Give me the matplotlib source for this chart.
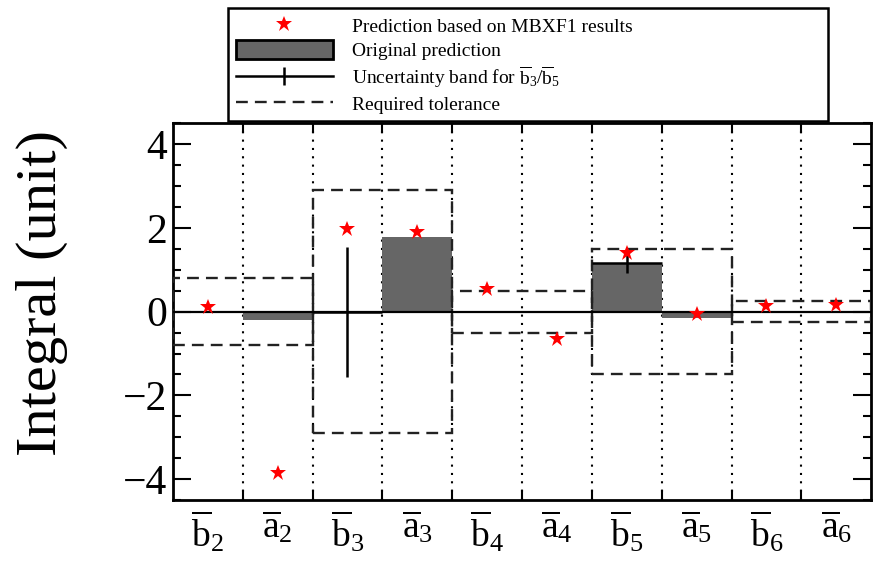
"""
Integral per harmonic: MBXF1-based prediction vs original prediction and tolerance.
"""

import matplotlib

matplotlib.use("Agg")
import matplotlib.pyplot as plt
from matplotlib.legend_handler import HandlerTuple
from matplotlib.lines import Line2D
from matplotlib.patches import Rectangle
from matplotlib.ticker import MultipleLocator, FixedLocator

plt.rcParams["font.family"] = ["Liberation Serif", "DejaVu Serif"]
plt.rcParams["mathtext.fontset"] = "custom"
plt.rcParams["mathtext.rm"] = "Liberation Serif"
plt.rcParams["mathtext.it"] = "Liberation Serif:italic"

# harmonics, in plotting order
harmonics = ["b2", "a2", "b3", "a3", "b4", "a4", "b5", "a5", "b6", "a6"]
tick_labels = [r"$\overline{\mathrm{%s}}_{%s}$" % (h[0], h[1]) for h in harmonics]

# prediction based on MBXF1 results (red stars)
mbxf1_pred = [0.12, -3.85, 1.98, 1.9, 0.55, -0.65, 1.4, -0.05, 0.14, 0.15]
# original prediction (grey bars)
original_pred = [0.0, -0.2, 0.0, 1.78, 0.0, 0.0, 1.16, -0.15, 0.0, 0.0]
# uncertainty band, only for b3 and b5
unc_index = [2, 6]
unc_value = [0.0, 1.16]
unc_err = [1.55, 0.23]
# required tolerance, one per (b_n, a_n) pair
tolerance = [0.8, 2.9, 0.5, 1.5, 0.25]

fig = plt.figure(figsize=(8.73, 5.64), dpi=100)
ax = fig.add_axes([0.198, 0.113, 0.8, 0.669])

x = list(range(len(harmonics)))

ax.bar(x, original_pred, width=1.0, color="#666666", edgecolor="none", zorder=2)

for i, tol in enumerate(tolerance):
    ax.add_patch(
        Rectangle(
            (2 * i - 0.5, -tol), 2.0, 2 * tol,
            fill=False, edgecolor="#222222", lw=1.7,
            linestyle=(0, (5, 3)), zorder=3,
        )
    )

for b in range(1, len(harmonics)):
    ax.axvline(b - 0.5, color="black", lw=1.5, linestyle=(0, (1, 3)), zorder=1)

ax.axhline(0, color="black", lw=1.6, zorder=4)

ax.errorbar(
    unc_index, unc_value, xerr=0.5, yerr=unc_err,
    fmt="none", ecolor="black", elinewidth=1.8, capsize=0, zorder=5,
)

ax.plot(x, mbxf1_pred, linestyle="none", marker="*", color="red",
        markersize=12, markeredgewidth=0, zorder=6)

ax.set_xlim(-0.5, len(harmonics) - 0.5)
ax.set_ylim(-4.5, 4.5)

ax.set_xticks(x)
ax.set_xticklabels(tick_labels, fontsize=27)
ax.xaxis.set_minor_locator(FixedLocator([b - 0.5 for b in range(1, len(harmonics))]))
ax.tick_params(axis="x", which="major", length=0, pad=6)
ax.tick_params(axis="x", which="minor", direction="in", length=7, width=1.5,
               top=True, bottom=True)

ax.set_yticks([-4, -2, 0, 2, 4])
ax.yaxis.set_minor_locator(MultipleLocator(0.5))
ax.tick_params(axis="y", which="major", direction="in", length=13, width=1.5,
               left=True, right=True, labelsize=30, pad=4)
ax.tick_params(axis="y", which="minor", direction="in", length=6, width=1.5,
               left=True, right=True)

for s in ax.spines.values():
    s.set_linewidth(2)

ax.set_ylabel("Integral (unit)", fontsize=42)
ax.yaxis.set_label_coords(-0.15, 0.55)

bar_handle = Rectangle((0, 0), 1, 1, facecolor="#666666", edgecolor="black",
                       linewidth=2)
unc_handle = (
    Line2D([], [], color="black", lw=1.8),
    Line2D([], [], linestyle="none", marker="|", color="black",
           markersize=13, markeredgewidth=1.8),
)
handles = [
    Line2D([], [], linestyle="none", marker="*", color="red", markersize=12,
           markeredgewidth=0),
    bar_handle,
    unc_handle,
    Line2D([], [], color="#222222", lw=1.7, linestyle=(0, (5, 3))),
]
labels = [
    "Prediction based on MBXF1 results",
    "Original prediction",
    r"Uncertainty band for $\overline{\mathrm{b}}_3/\overline{\mathrm{b}}_5$",
    "Required tolerance",
]
leg = fig.legend(
    handles, labels, loc="upper left",
    bbox_to_anchor=(0.261, 0.985, 0.687, 0.0), mode="expand",
    fontsize=14, frameon=True, fancybox=False, edgecolor="black",
    framealpha=1, handlelength=5, handletextpad=1.0, labelspacing=0.2,
    handleheight=1.1, borderpad=0.4, borderaxespad=0,
    handler_map={tuple: HandlerTuple(ndivide=1)},
)
leg.get_frame().set_linewidth(1.8)

fig.savefig("out.png", dpi=100)
